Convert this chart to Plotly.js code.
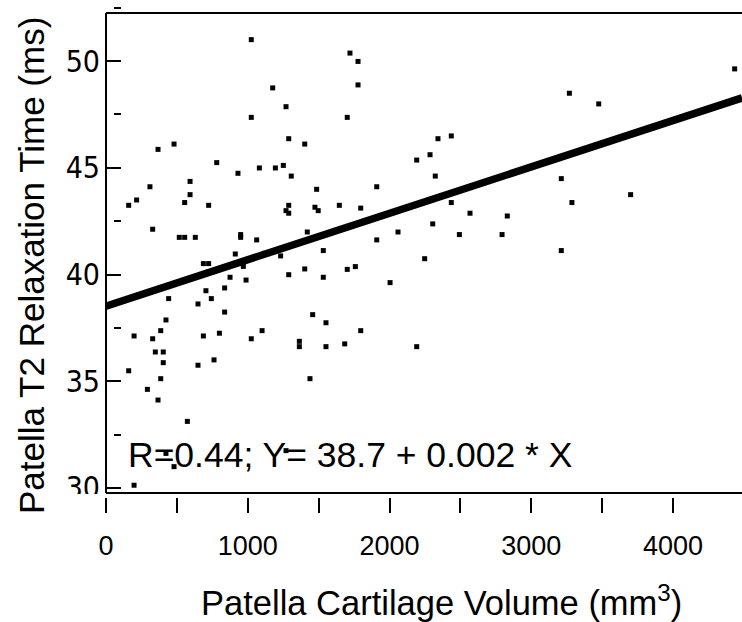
<!DOCTYPE html>
<html>
<head>
<meta charset="utf-8">
<script src="https://cdn.plot.ly/plotly-3.0.1.min.js"></script>
<style>
  html, body { margin: 0; padding: 0; background: #ffffff; }
  #chart { width: 742px; height: 622px; }
</style>
</head>
<body>
<div id="chart"></div>
<script>
// Patella cartilage volume (mm^3) and T2 relaxation time (ms)
const volume = [
  1025, 1176, 1270, 1025, 1289, 1402, 367, 480, 781, 931, 1082, 1195, 1251, 1307, 1486,
  310, 593, 593, 555, 724, 160, 216, 1289, 1270, 1289, 1474, 1497, 329, 517, 555, 630,
  950, 950, 1063, 1420, 912,
  1721, 1778, 1778, 1702, 2342, 2436, 2192, 2286, 2323, 1910, 1646, 1797, 2436, 2568,
  2831, 2305, 2060, 1910, 2493, 2794, 1533,
  4435, 3269, 3476, 3212, 3287, 3701, 3212,
  687, 724, 724, 969, 1119, 1232, 1289, 1402, 875, 988, 837, 705, 743, 649, 442, 837,
  423, 386, 198, 329, 348, 404, 404, 160, 386, 292, 367, 574, 687, 800, 649, 762,
  1025, 1101, 1364, 1364, 1458, 1439, 423, 480, 1270, 198,
  1533, 1702, 1759, 2004, 2248, 1552, 1797, 1552, 1684, 2192
];
const t2 = [
  51.0, 48.74, 47.86, 47.36, 46.36, 46.11, 45.86, 46.11, 45.24, 44.74, 44.99, 44.99, 45.11, 44.61, 43.99,
  44.11, 44.36, 43.74, 43.37, 43.24, 43.24, 43.49, 43.24, 42.99, 42.87, 43.15, 42.99, 42.12, 41.74, 41.74, 41.74,
  41.87, 41.74, 41.62, 41.99, 40.96,
  50.37, 49.98, 48.88, 47.36, 46.36, 46.49, 45.36, 45.61, 44.61, 44.11, 43.24, 43.11, 43.37, 42.87,
  42.74, 42.37, 41.99, 41.62, 41.87, 41.87, 41.12,
  49.63, 48.49, 47.99, 44.49, 43.37, 43.74, 41.12,
  40.51, 40.51, 40.12, 40.38, 40.99, 40.87, 39.99, 40.26, 39.87, 39.74, 39.37, 39.24, 38.87, 38.62, 38.87, 38.24,
  37.87, 37.37, 37.12, 36.99, 36.37, 36.37, 35.87, 35.49, 35.12, 34.62, 34.12, 33.12, 37.12, 37.25, 35.75, 36.0,
  36.99, 37.37, 36.87, 36.62, 38.12, 35.12, 31.62, 31.0, 31.75, 30.13,
  39.87, 40.24, 40.37, 39.62, 40.74, 37.74, 37.37, 36.62, 36.75, 36.62
];
// regression line end points
const fitX = [0, 4487];
const fitY = [38.52, 48.27];

const xTickVals = [0, 1000, 2000, 3000, 4000];
const xTickText = ['0', '1000', '2000', '3000', '4000'];
const yTickVals = [30, 35, 40, 45, 50];
const yTickText = ['30', '35', '40', '45', '50'];

const annotationText = 'R=0.44; Y= 38.7 + 0.002 * X';
const xTitle = 'Patella Cartilage Volume (mm<sup>3</sup>)';
const yTitle = 'Patella T2 Relaxation Time (ms)';

// geometry helpers (pixels -> paper)
const W = 742, H = 622;
const L = 106, R = 0, T = 5, B = 125;
const pw = W - L - R, ph = H - T - B;
const px = x => (x - L) / pw;
const py = y => (H - B - y) / ph;

const sans = 'Liberation Sans, Arial, Helvetica, sans-serif';
const narrow = 'Liberation Sans Narrow, Arial Narrow, DejaVu Sans Condensed, sans-serif';

const traces = [
  {
    x: volume, y: t2, type: 'scatter', mode: 'markers',
    marker: { symbol: 'square', size: 5, color: '#000000', line: { width: 0 } },
    hoverinfo: 'x+y', showlegend: false
  },
  {
    x: fitX, y: fitY, type: 'scatter', mode: 'lines',
    line: { color: '#000000', width: 7.5 },
    hoverinfo: 'skip', showlegend: false
  }
];

const frameBottom = 29.77, frameTop = 52.25;

const layout = {
  width: W, height: H,
  margin: { l: L, r: R, t: T, b: B, pad: 0 },
  paper_bgcolor: '#ffffff', plot_bgcolor: '#ffffff',
  showlegend: false,
  xaxis: {
    range: [0, 4486.8],
    tickmode: 'array', tickvals: xTickVals, ticktext: xTickText,
    ticks: 'outside', ticklen: 15, tickwidth: 2, tickcolor: '#000000',
    minor: { dtick: 500, tick0: 0, ticks: 'outside', ticklen: 15, tickwidth: 2, tickcolor: '#000000', showgrid: false },
    showline: false, showgrid: false, zeroline: false,
    tickfont: { family: sans, size: 27, color: '#000000' },
    ticklabelstandoff: 10,
    fixedrange: true
  },
  yaxis: {
    range: [29.578, 52.623],
    anchor: 'free', position: 15 / pw, side: 'left',
    tickmode: 'array', tickvals: yTickVals, ticktext: yTickText,
    ticks: 'outside', ticklen: 15, tickwidth: 2, tickcolor: '#000000',
    minor: { dtick: 2.5, tick0: 0, ticks: 'outside', ticklen: 7, tickwidth: 2, tickcolor: '#000000', showgrid: false },
    showline: false, showgrid: false, zeroline: false,
    tickfont: { family: narrow, size: 30, color: '#000000' },
    fixedrange: true
  },
  shapes: [
    // plot frame
    { type: 'line', layer: 'above', xref: 'paper', yref: 'y', x0: 0, x1: 0, y0: frameBottom, y1: frameTop,
      line: { color: '#000000', width: 2 } },
    { type: 'line', layer: 'above', xref: 'paper', yref: 'y', x0: 0, x1: 1, y0: frameTop, y1: frameTop,
      line: { color: '#000000', width: 2 } },
    { type: 'line', layer: 'above', xref: 'paper', yref: 'y', x0: 0, x1: 1, y0: frameBottom, y1: frameBottom,
      line: { color: '#000000', width: 2 } },
    // clip of lowest tick label below the frame
    { type: 'rect', layer: 'above', xref: 'paper', yref: 'paper',
      x0: px(40), x1: px(103), y0: py(515), y1: py(494),
      fillcolor: '#ffffff', line: { width: 0 } }
  ],
  annotations: [
    { text: annotationText, xref: 'paper', yref: 'paper', x: px(349.5), y: py(455),
      xanchor: 'center', yanchor: 'middle', showarrow: false,
      font: { family: sans, size: 35.5, color: '#000000' } },
    { text: xTitle, xref: 'paper', yref: 'paper', x: px(441.5), y: py(600),
      xanchor: 'center', yanchor: 'middle', showarrow: false,
      font: { family: sans, size: 34.5, color: '#000000' } },
    { text: yTitle, xref: 'paper', yref: 'paper', x: px(31), y: py(266),
      xanchor: 'center', yanchor: 'middle', showarrow: false, textangle: -90,
      font: { family: sans, size: 35, color: '#000000' } }
  ]
};

Plotly.newPlot('chart', traces, layout, { staticPlot: true, displayModeBar: false });
</script>
</body>
</html>
